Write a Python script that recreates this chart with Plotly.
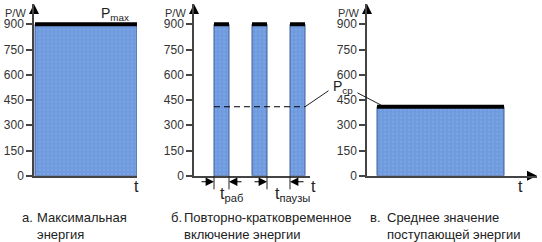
import plotly.graph_objects as go

# ---------------- data ----------------
y_tick_vals = [0, 150, 300, 450, 600, 750, 900]
y_tick_text = ["0", "150", "300", "450", "600", "750", "900"]
p_max = 900          # peak power
p_avg = 410          # average power (P ср)

a_start, a_end = 0.1, 10.3          # panel a: continuous max power
b_starts = [2.0, 5.8, 9.6]          # panel b: pulses
b_width = 1.5
c_start, c_end = 1.0, 13.7          # panel c: average power

captions_label = ["а.", "б.", "в."]
captions_text = ["Максимальная<br>энергия",
                 "Повторно-кратковременное<br>включение энергии",
                 "Среднее значение<br>поступающей энергии"]

# ---------------- layout helpers ----------------
W, H = 542, 242
def px(p):
    return p / W
def py(p):
    return (H - p) / H

FONT = "Liberation Sans, Arial, sans-serif"
FILL = "#6f9ade"
EDGE = "#3f5f98"
AX = "#444444"
Y_TOP = 1021

fig = go.Figure()

def add_bar(start, end, height, xa, ya):
    fig.add_trace(go.Bar(x=[(start + end) / 2], y=[height], width=[end - start],
                         base=0, xaxis=xa, yaxis=ya,
                         marker=dict(color=FILL, line=dict(color=EDGE, width=1),
                                     pattern=dict(shape=".", fgcolor="#86aeea", size=4, solidity=0.25)),
                         showlegend=False, hoverinfo="skip"))
    fig.add_trace(go.Scatter(x=[start, end], y=[height, height], xaxis=xa, yaxis=ya,
                             mode="lines", line=dict(color="black", width=4),
                             showlegend=False, hoverinfo="skip", cliponaxis=False))

add_bar(a_start, a_end, p_max, "x", "y")
for s in b_starts:
    add_bar(s, s + b_width, p_max, "x2", "y2")
add_bar(c_start, c_end, p_avg, "x3", "y3")

# dashed average line in panel b
fig.add_trace(go.Scatter(x=[b_starts[0], b_starts[-1] + b_width], y=[p_avg, p_avg],
                         xaxis="x2", yaxis="y2", mode="lines",
                         line=dict(color="black", width=1, dash="6px,4px"),
                         showlegend=False, hoverinfo="skip"))

domains = [(34, 137), (194, 310), (367, 537)]
ranges = [(0, 10.3), (0, 11.6), (0, 17.0)]
ydom = [py(181), py(4)]

# axis arrowheads (markers at the end of the axis lines)
for i in range(3):
    sfx = "" if i == 0 else str(i + 1)
    fig.add_trace(go.Scatter(x=[0], y=[Y_TOP], xaxis="x" + sfx, yaxis="y" + sfx,
                             mode="markers", cliponaxis=False,
                             marker=dict(symbol="arrow-up", size=10, color="black",
                                         line=dict(width=0)),
                             showlegend=False, hoverinfo="skip"))
fig.add_trace(go.Scatter(x=[ranges[2][1]], y=[0], xaxis="x3", yaxis="y3",
                         mode="markers", cliponaxis=False,
                         marker=dict(symbol="arrow-right", size=10, color="black",
                                     line=dict(width=0)),
                         showlegend=False, hoverinfo="skip"))

layout = dict(width=W, height=H, margin=dict(l=0, r=0, t=0, b=0),
              paper_bgcolor="white", plot_bgcolor="rgba(0,0,0,0)",
              barmode="overlay", showlegend=False,
              font=dict(family=FONT, color="#222222"))
for i, (d, r) in enumerate(zip(domains, ranges)):
    sfx = "" if i == 0 else str(i + 1)
    layout["xaxis" + sfx] = dict(domain=[px(d[0]), px(d[1])], range=list(r),
                                 showgrid=False, zeroline=False, showticklabels=False,
                                 ticks="", showline=True, linecolor=AX, linewidth=1.5,
                                 anchor="y" + sfx, fixedrange=True)
    layout["yaxis" + sfx] = dict(domain=ydom, range=[0, Y_TOP], anchor="x" + sfx,
                                 tickvals=y_tick_vals, ticktext=y_tick_text,
                                 ticks="outside", ticklen=6, tickwidth=1.5, tickcolor=AX,
                                 tickfont=dict(size=12, family=FONT, color="#333333"),
                                 showgrid=False, zeroline=False, showline=True,
                                 linecolor=AX, linewidth=1.5, fixedrange=True)
fig.update_layout(**layout)

ann = []
# P/W labels
for i in range(3):
    sfx = "" if i == 0 else str(i + 1)
    ann.append(dict(x=0, y=968, xref="x" + sfx, yref="y" + sfx, text="P/W",
                    showarrow=False, xanchor="right", xshift=-6,
                    font=dict(size=11, family=FONT, color="#333333")))

# t labels
tfont = dict(size=16, family=FONT, color="#222222")
ann.append(dict(x=10.2, y=0, xref="x", yref="y", text="t", showarrow=False,
                yanchor="top", font=tfont))
ann.append(dict(x=ranges[1][1], y=0, xref="x2", yref="y2", text="t", showarrow=False,
                yanchor="top", xshift=3, font=tfont))
ann.append(dict(x=15.3, y=0, xref="x3", yref="y3", text="t", showarrow=False,
                yanchor="top", font=tfont))

# P max label
ann.append(dict(x=8.1, y=958, xref="x", yref="y", text="P<sub>max</sub>", showarrow=False,
                font=dict(size=14, family=FONT, color="#222222")))

# P ср label and leaders
ann.append(dict(x=px(343), y=py(90), xref="paper", yref="paper", text="P<sub>ср</sub>",
                showarrow=False, font=dict(size=14, family=FONT, color="#222222")))
ann.append(dict(x=b_starts[-1] + b_width, y=p_avg, xref="x2", yref="y2",
                ax=25, ay=-17, showarrow=True, arrowhead=0, arrowwidth=1,
                arrowcolor="#222222", text=""))
ann.append(dict(x=c_start + 0.4, y=p_avg + 10, xref="x3", yref="y3",
                ax=-25, ay=-13, showarrow=True, arrowhead=0, arrowwidth=1,
                arrowcolor="#222222", text=""))

# dimension marks in panel b
edges = [b_starts[0], b_starts[0] + b_width, b_starts[1] + b_width, b_starts[2]]
dirs = [-14, 14, -14, 15]
shapes = []
for e, d in zip(edges, dirs):
    shapes.append(dict(type="line", xref="x2", yref="paper", x0=e, x1=e,
                       y0=py(181), y1=py(195), line=dict(color="#222222", width=1)))
    ann.append(dict(x=e, y=0, xref="x2", yref="y2", ax=d, ay=0, yshift=-6,
                    showarrow=True, arrowhead=2, arrowsize=1.4, arrowwidth=1.2,
                    arrowcolor="black", text=""))
ann.append(dict(x=3.7, y=py(188), xref="x2", yref="paper", text="t<sub>раб</sub>",
                showarrow=False, yanchor="top", font=tfont))
ann.append(dict(x=9.8, y=py(188), xref="x2", yref="paper", text="t<sub>паузы</sub>",
                showarrow=False, yanchor="top", font=tfont))

# captions
lab_x = [20, 169, 368]
txt_x = [35, 182, 385]
cfont = dict(size=13, family=FONT, color="#222222")
for lx, tx, lab, txt in zip(lab_x, txt_x, captions_label, captions_text):
    ann.append(dict(x=px(lx), y=py(214), xref="paper", yref="paper", text=lab,
                    showarrow=False, xanchor="left", yanchor="top", font=cfont))
    ann.append(dict(x=px(tx), y=py(214), xref="paper", yref="paper", text=txt,
                    showarrow=False, xanchor="left", yanchor="top", align="left", font=cfont))

fig.update_layout(annotations=ann, shapes=shapes)
fig.write_html("out.html")
